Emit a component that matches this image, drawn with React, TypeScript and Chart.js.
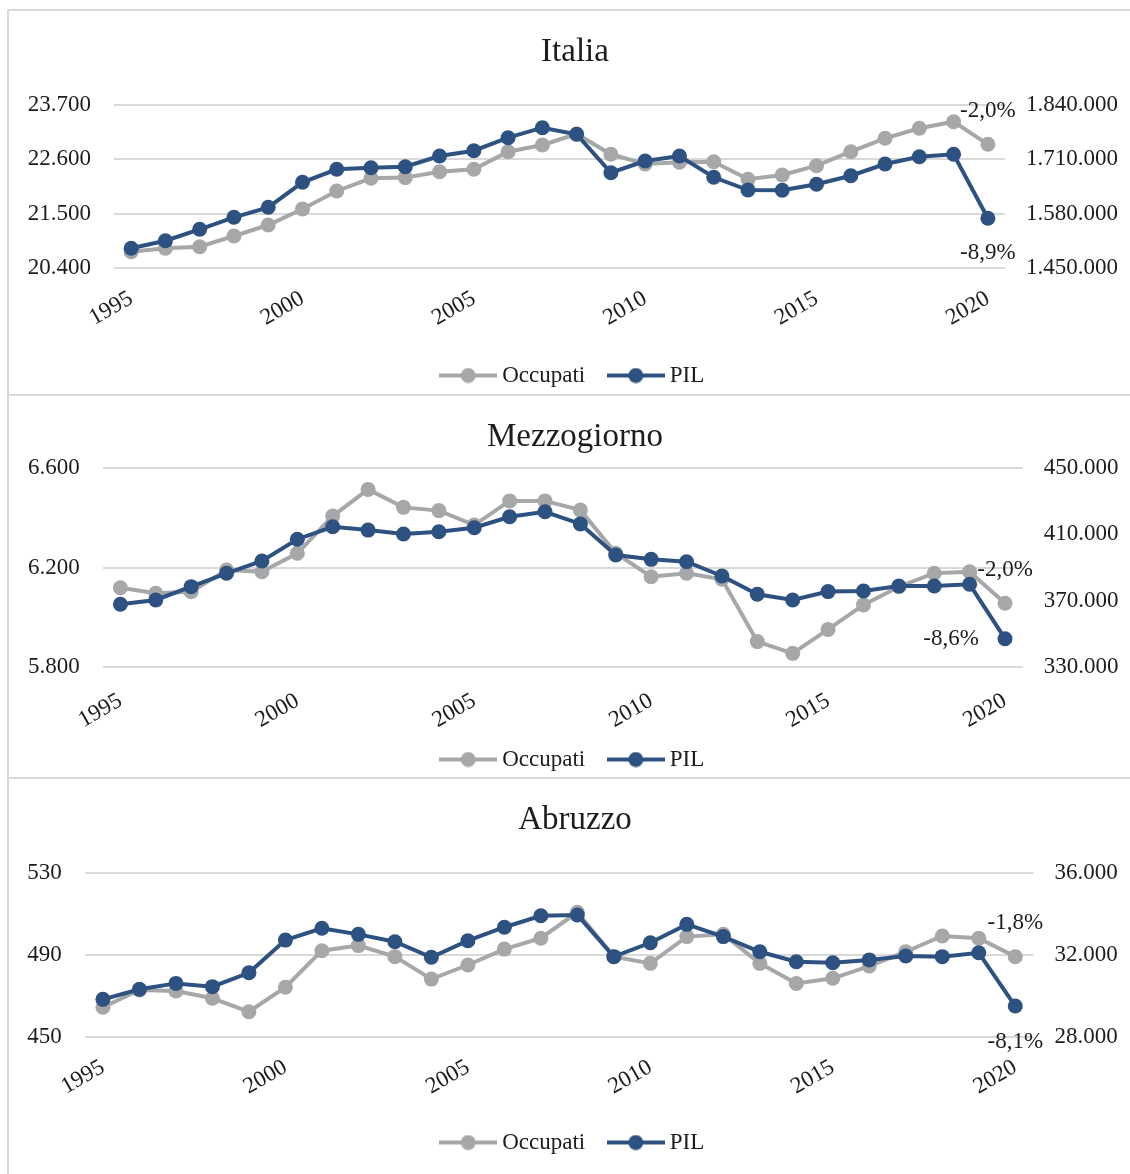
import React, { useEffect, useRef } from 'react';
import { Chart, registerables } from 'chart.js';

Chart.register(...registerables);

// ---------- data ----------
const years = ['1995','1996','1997','1998','1999','2000','2001','2002','2003','2004','2005','2006','2007','2008','2009','2010','2011','2012','2013','2014','2015','2016','2017','2018','2019','2020'];
const seriesNames = ['Occupati', 'PIL'];
const panelTitles = ['Italia', 'Mezzogiorno', 'Abruzzo'];

const italiaOccupati = [20730, 20799, 20831, 21048, 21270, 21594, 21959, 22216, 22230, 22350, 22398, 22754, 22890, 23113, 22702, 22505, 22540, 22552, 22196, 22283, 22471, 22754, 23026, 23228, 23362, 22904];
const italiaPil = [1497100, 1515300, 1542600, 1571300, 1595200, 1655000, 1686200, 1690000, 1692400, 1718000, 1730700, 1761800, 1785700, 1769900, 1678000, 1706000, 1718000, 1667000, 1636600, 1636000, 1650300, 1670800, 1698800, 1716300, 1722000, 1568900];

const mezzOccupati = [6119, 6097, 6103, 6190, 6183, 6257, 6406, 6513, 6441, 6428, 6370, 6467, 6467, 6430, 6257, 6163, 6177, 6153, 5903, 5856, 5952, 6050, 6123, 6177, 6183, 6057];
const mezzPil = [367900, 370500, 378500, 386500, 393900, 407000, 414500, 412500, 410100, 411500, 413900, 420500, 423500, 416200, 397500, 394900, 393500, 384900, 373900, 370500, 375500, 375900, 378900, 378900, 379900, 347200];

const abruzzoOccupati = [464.4, 472.9, 472.4, 468.8, 462.2, 474.2, 492.1, 494.6, 489.2, 478.2, 485.1, 492.9, 498.2, 510.9, 489.2, 485.9, 499.0, 500.1, 485.9, 476.1, 478.6, 484.6, 491.6, 499.3, 498.2, 489.2];
const abruzzoPil = [29830, 30320, 30610, 30450, 31130, 32730, 33310, 33010, 32650, 31890, 32700, 33360, 33920, 33960, 31920, 32600, 33500, 32900, 32160, 31670, 31620, 31760, 31950, 31920, 32110, 29500];

// axis tick values
const italiaLeftTicks = [20400, 21500, 22600, 23700];
const italiaRightTicks = [1450000, 1580000, 1710000, 1840000];
const mezzLeftTicks = [5800, 6200, 6600];
const mezzRightTicks = [330000, 370000, 410000, 450000];
const abruzzoLeftTicks = [450, 490, 530];
const abruzzoRightTicks = [28000, 32000, 36000];

const xLabelYears = ['1995', '2000', '2005', '2010', '2015', '2020'];

// ---------- style ----------
const FONT = '"Liberation Serif", "Times New Roman", serif';
const TEXT = '#1c1c1c';
const GRAY = '#a6a7a9';
const BLUE = '#2d5181';
const GRID = '#d9d9d9';
const PANEL_W = 1134;

Chart.defaults.font.family = FONT;
Chart.defaults.color = TEXT;

const panels = [
  { occ: italiaOccupati, pil: italiaPil, left: italiaLeftTicks, right: italiaRightTicks,
    layout: { top: 10, h: 387, yl: 106, yr: 137, titleBottom: 32.4, xh: 68, xpad: 17,
      labels: [{ ds: 0, dx: 0, dy: -33 }, { ds: 1, dx: 0, dy: 35 }] } },
  { occ: mezzOccupati, pil: mezzPil, left: mezzLeftTicks, right: mezzRightTicks,
    layout: { top: 395, h: 386, yl: 94.7, yr: 119.3, titleBottom: 10.1, xh: 52.7, xpad: 20,
      labels: [{ ds: 0, dx: 0, dy: -33 }, { ds: 1, dx: -54, dy: 0 }] } },
  { occ: abruzzoOccupati, pil: abruzzoPil, left: abruzzoLeftTicks, right: abruzzoRightTicks,
    layout: { top: 778, h: 386, yl: 76.7, yr: 108.5, titleBottom: 32.7, xh: 66.3, xpad: 17,
      labels: [{ ds: 0, dx: 0, dy: -34 }, { ds: 1, dx: 0, dy: 36 }] } },
];

const fmt = (v: number) => Math.round(v).toString().replace(/\B(?=(\d{3})+(?!\d))/g, '.');
const pct = (arr: number[]) => {
  const n = arr.length;
  return ((arr[n - 1] / arr[n - 2] - 1) * 100).toFixed(1).replace('.', ',') + '%';
};

function legendIcon(color: string) {
  const c = document.createElement('canvas');
  c.width = 58;
  c.height = 16;
  const g = c.getContext('2d')!;
  g.strokeStyle = color;
  g.lineWidth = 4;
  g.beginPath();
  g.moveTo(0, 8);
  g.lineTo(58, 8);
  g.stroke();
  g.fillStyle = color;
  g.beginPath();
  g.arc(29, 8, 7.5, 0, Math.PI * 2);
  g.fill();
  return c;
}

const endLabelPlugin = {
  id: 'endLabels',
  afterDatasetsDraw(chart: any, _args: any, opts: any) {
    const ctx = chart.ctx;
    ctx.save();
    ctx.font = `23px ${FONT}`;
    ctx.fillStyle = TEXT;
    ctx.textAlign = 'center';
    ctx.textBaseline = 'middle';
    for (const l of opts.items || []) {
      const meta = chart.getDatasetMeta(l.ds);
      const pt = meta.data[l.idx];
      if (pt) ctx.fillText(l.text, pt.x + l.dx, pt.y + l.dy);
    }
    ctx.restore();
  },
};

function Panel({ index }: { index: number }) {
  const ref = useRef<HTMLCanvasElement>(null);
  const p = panels[index];
  const L = p.layout;
  useEffect(() => {
    const last = years.length - 1;
    const series = [p.occ, p.pil];
    const chart = new Chart(ref.current!, {
      type: 'line',
      data: {
        labels: years,
        datasets: [
          { label: seriesNames[0], data: p.occ, yAxisID: 'y', borderColor: GRAY, backgroundColor: GRAY,
            pointBackgroundColor: GRAY, pointBorderColor: GRAY, borderWidth: 4, pointRadius: 7.5, pointBorderWidth: 0, order: 1, tension: 0 },
          { label: seriesNames[1], data: p.pil, yAxisID: 'y1', borderColor: BLUE, backgroundColor: BLUE,
            pointBackgroundColor: BLUE, pointBorderColor: BLUE, borderWidth: 4, pointRadius: 7.5, pointBorderWidth: 0, order: 0, tension: 0 },
        ],
      },
      options: {
        responsive: false,
        animation: false,
        layout: { padding: { left: 0, right: 0, top: 0, bottom: 0 } },
        scales: {
          x: {
            type: 'category',
            offset: true,
            grid: { display: false, drawTicks: false },
            border: { display: false },
            ticks: {
              autoSkip: false,
              minRotation: 30,
              maxRotation: 30,
              padding: L.xpad,
              font: { size: 23 },
              color: TEXT,
              callback: function (this: any, _v: any, i: number) {
                const y = years[i];
                return xLabelYears.includes(y) ? y : '';
              },
            },
            afterFit: (s: any) => {
              s.height = L.xh;
              // let rotated year labels run past the axis box instead of being clipped
              s._computeLabelArea = () => undefined;
            },
          },
          y: {
            type: 'linear',
            position: 'left',
            min: p.left[0],
            max: p.left[p.left.length - 1],
            grid: { color: GRID, lineWidth: 2, drawTicks: false },
            border: { display: false },
            ticks: { stepSize: p.left[1] - p.left[0], padding: 23, font: { size: 23 }, color: TEXT,
              callback: (v: any) => fmt(Number(v)) },
            afterFit: (s: any) => { s.width = L.yl; },
          },
          y1: {
            type: 'linear',
            position: 'right',
            min: p.right[0],
            max: p.right[p.right.length - 1],
            grid: { drawOnChartArea: false, drawTicks: false },
            border: { display: false },
            ticks: { stepSize: p.right[1] - p.right[0], padding: 21, font: { size: 23 }, color: TEXT,
              callback: (v: any) => fmt(Number(v)) },
            afterFit: (s: any) => { s.width = L.yr; },
          },
        },
        plugins: {
          title: {
            display: true,
            text: panelTitles[index],
            font: { size: 33, weight: 'normal' },
            color: TEXT,
            padding: { top: 23, bottom: L.titleBottom },
          },
          legend: {
            display: true,
            position: 'bottom',
            labels: {
              usePointStyle: true,
              pointStyleWidth: 45,
              padding: 28,
              font: { size: 23 },
              color: TEXT,
              generateLabels: (ch: any) => ch.data.datasets.map((ds: any, i: number) => ({
                text: ds.label,
                fillStyle: ds.borderColor,
                strokeStyle: ds.borderColor,
                lineWidth: 0,
                pointStyle: legendIcon(ds.borderColor),
                hidden: false,
                datasetIndex: i,
                fontColor: TEXT,
              })),
            },
          },
          tooltip: { enabled: false },
          endLabels: {
            items: L.labels.map((l) => ({ ...l, idx: last, text: pct(series[l.ds]) })),
          },
        } as any,
      },
      plugins: [endLabelPlugin as any],
    } as any);
    return () => chart.destroy();
  }, []);
  return (
    <canvas
      ref={ref}
      width={PANEL_W}
      height={L.h}
      style={{ position: 'absolute', left: 8, top: L.top, width: PANEL_W, height: L.h }}
    />
  );
}

export default function App() {
  const borders = [
    { top: 9, h: 387 },
    { top: 394, h: 385 },
    { top: 777, h: 500 },
  ];
  return (
    <div style={{ position: 'absolute', left: 0, top: 0, width: 1130, height: 1174, overflow: 'hidden', background: '#fff' }}>
      {borders.map((b, i) => (
        <div key={i} style={{ position: 'absolute', left: 7, top: b.top, width: 1200, height: b.h,
          border: `2px solid ${GRID}`, boxSizing: 'border-box' }} />
      ))}
      {panels.map((_, i) => <Panel key={i} index={i} />)}
    </div>
  );
}
